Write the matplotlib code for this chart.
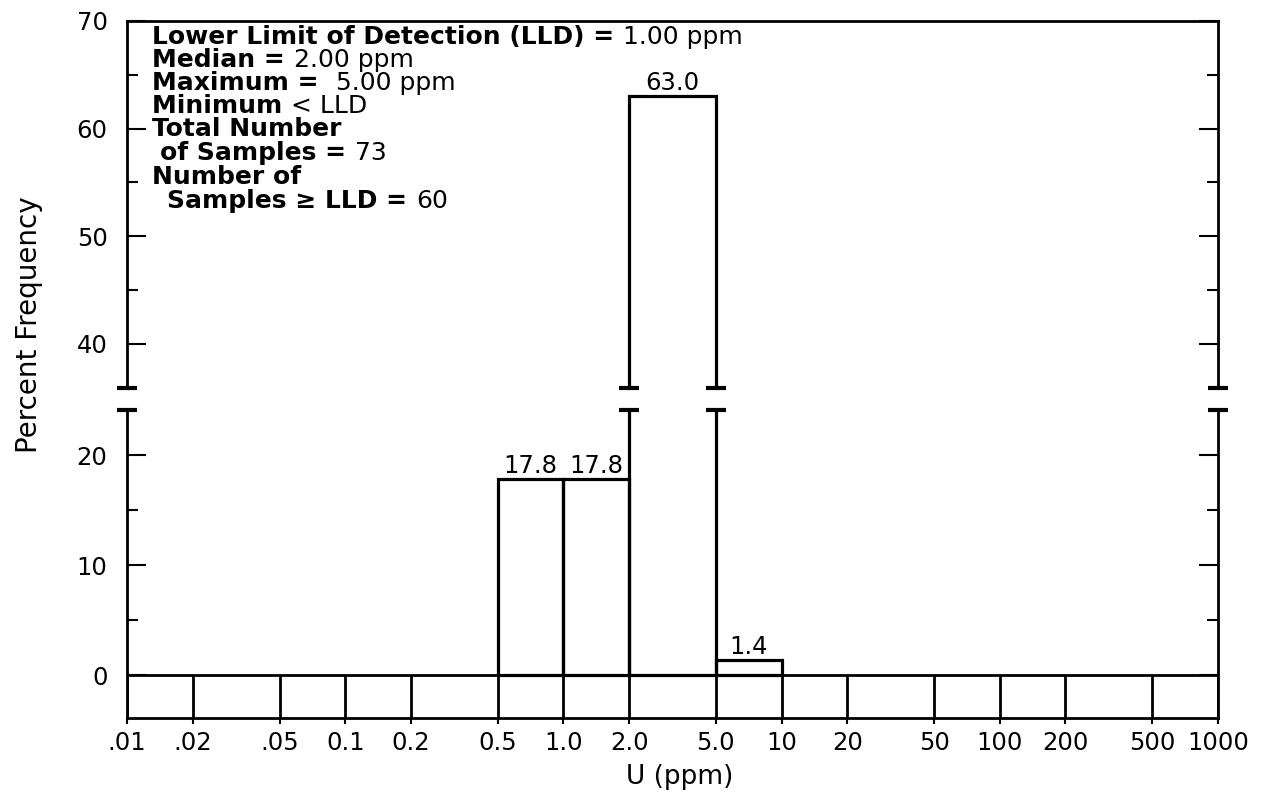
import matplotlib
matplotlib.use("Agg")
import matplotlib.pyplot as plt
from matplotlib.ticker import FixedLocator, FixedFormatter, NullLocator
import numpy as np

# ---------------- data ----------------
bin_left = [0.5, 1.0, 2.0, 5.0]
bin_right = [1.0, 2.0, 5.0, 10.0]
percent = [17.8, 17.8, 63.0, 1.4]
bar_labels = ["17.8", "17.8", "63.0", "1.4"]

x_ticks = [0.01, 0.02, 0.05, 0.1, 0.2, 0.5, 1.0, 2.0, 5.0, 10, 20, 50, 100, 200, 500, 1000]
x_tick_labels = [".01", ".02", ".05", "0.1", "0.2", "0.5", "1.0", "2.0", "5.0",
                 "10", "20", "50", "100", "200", "500", "1000"]

y_ticks_lower = [0, 10, 20]
y_minor_lower = [5, 15]
y_ticks_upper = [40, 50, 60, 70]
y_minor_upper = [45, 55, 65]

# axis break (lower panel top, upper panel bottom)
ylim_lower = (-3.9, 24.1)
ylim_upper = (35.9, 70)

info_lines = [
    [("Lower Limit of Detection (LLD) = ", "bold"), ("1.00 ppm", "normal")],
    [("Median = ", "bold"), ("2.00 ppm", "normal")],
    [("Maximum =  ", "bold"), ("5.00 ppm", "normal")],
    [("Minimum ", "bold"), ("< LLD", "normal")],
    [("Total Number", "bold")],
    [("of Samples = ", "bold"), ("73", "normal")],
    [("Number of", "bold")],
    [("Samples \u2265 LLD = ", "bold"), ("60", "normal")],
]

# ---------------- figure ----------------
W, H = 1265, 794
fig = plt.figure(figsize=(W / 100, H / 100), dpi=100)


def fx(px):
    return px / W


def fy(py):
    return 1 - py / H


L, R = 127, 1218
ax_lo = fig.add_axes([fx(L), fy(718), fx(R) - fx(L), fy(410) - fy(718)])
ax_hi = fig.add_axes([fx(L), fy(388), fx(R) - fx(L), fy(21) - fy(388)], sharex=ax_lo)

widths = np.array(bin_right) - np.array(bin_left)
for ax in (ax_lo, ax_hi):
    ax.bar(bin_left, percent, width=widths, align="edge", bottom=0,
           fill=False, edgecolor="black", linewidth=2.3)
    ax.axhline(0, color="black", lw=2)
    for s in ax.spines.values():
        s.set_linewidth(2)

ax_lo.set_xscale("log")
ax_lo.set_xlim(0.01, 1000)
ax_lo.set_ylim(*ylim_lower)
ax_hi.set_ylim(*ylim_upper)

ax_lo.spines["top"].set_visible(False)
ax_hi.spines["bottom"].set_visible(False)

# vertical cell lines in the strip below zero
ax_lo.vlines(x_ticks, ylim_lower[0], 0, colors="black", lw=2)

# x axis
ax_lo.xaxis.set_major_locator(FixedLocator(x_ticks))
ax_lo.xaxis.set_major_formatter(FixedFormatter(x_tick_labels))
ax_lo.xaxis.set_minor_locator(NullLocator())
ax_lo.tick_params(axis="x", which="major", direction="out", length=4, width=1.5,
                  labelsize=17.5, pad=5)
ax_hi.tick_params(axis="x", which="both", bottom=False, top=False,
                  labelbottom=False, labeltop=False)

# y axes
for ax, maj, mnr in ((ax_lo, y_ticks_lower, y_minor_lower),
                     (ax_hi, y_ticks_upper, y_minor_upper)):
    ax.yaxis.set_major_locator(FixedLocator(maj))
    ax.yaxis.set_minor_locator(FixedLocator(mnr))
    ax.tick_params(axis="y", which="both", direction="in", left=True, right=True,
                   labelsize=17.5, pad=14)
    ax.tick_params(axis="y", which="major", length=14, width=1.5)
    ax.tick_params(axis="y", which="minor", length=8, width=1.5)

# break marks on the spines and on bar edges crossing the break
big = [(l, r) for l, r, v in zip(bin_left, bin_right, percent) if v > ylim_upper[0]]
break_x = [0.01, 1000] + [e for pair in big for e in pair]
for ax, yb in ((ax_lo, ylim_lower[1]), (ax_hi, ylim_upper[0])):
    ax.plot(break_x, [yb] * len(break_x), ls="none", marker="_", ms=15, mew=3,
            color="black", clip_on=False)

# bar value labels
for l, r, v, lab in zip(bin_left, bin_right, percent, bar_labels):
    ax = ax_hi if v > ylim_upper[0] else ax_lo
    ax.annotate(lab, xy=(np.sqrt(l * r), v), xytext=(0, 6), textcoords="offset pixels",
                ha="center", va="baseline", fontsize=17.5)

# axis titles
fig.text(fx(29), fy(325), "Percent Frequency", rotation=90, ha="center", va="center",
         fontsize=20)
fig.text(fx(680), fy(777), "U (ppm)", ha="center", va="center", fontsize=19)

# info block
line_x = [152, 152, 152, 152, 152, 160, 152, 167]
line_base = [44, 67, 90, 113, 136, 160, 184, 208]
for parts, x0, yb in zip(info_lines, line_x, line_base):
    t = ax_hi.text(fx(x0), fy(yb), parts[0][0], transform=fig.transFigure,
                   fontsize=18, fontweight=parts[0][1], ha="left", va="baseline")
    for txt, wt in parts[1:]:
        t = ax_hi.annotate(txt, xy=(1, 0), xycoords=t, xytext=(0, 0),
                           textcoords="offset pixels", ha="left", va="bottom",
                           fontsize=18, fontweight=wt)

fig.savefig("out.png", dpi=100)
